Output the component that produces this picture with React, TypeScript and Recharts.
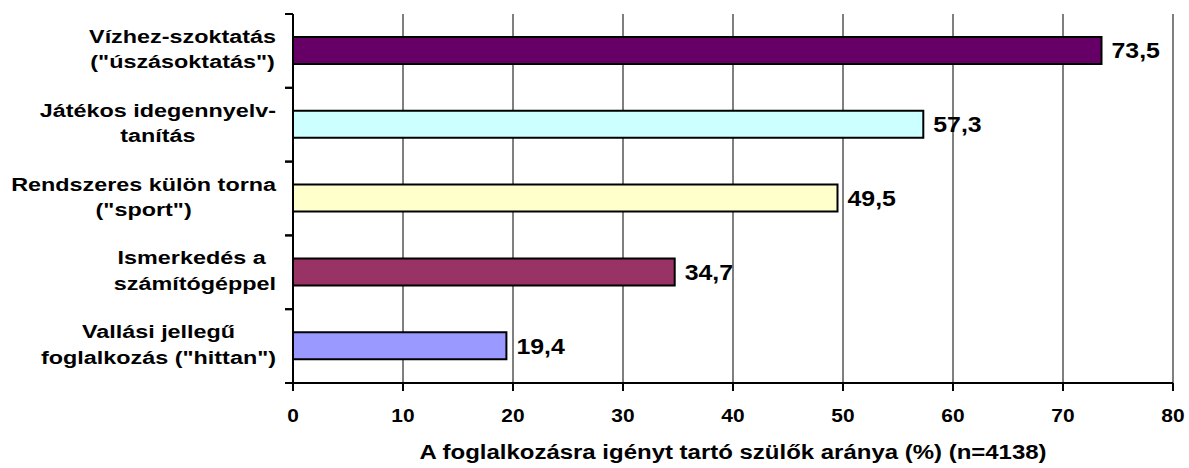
import React from 'react';
import { BarChart, Bar, XAxis, YAxis, CartesianGrid, Cell, LabelList } from 'recharts';

const categories = [
  'Vízhez-szoktatás\n("úszásoktatás")',
  'Játékos idegennyelv-\ntanítás',
  'Rendszeres külön torna\n("sport")',
  'Ismerkedés a \nszámítógéppel',
  'Vallási jellegű\nfoglalkozás ("hittan")',
];
const values = [73.5, 57.3, 49.5, 34.7, 19.4];
const colors = ['#660066', '#CCFFFF', '#FFFFCC', '#993366', '#9999FF'];
const xTicks = [0, 10, 20, 30, 40, 50, 60, 70, 80];
const xTitle = 'A foglalkozásra igényt tartó szülők aránya (%) (n=4138)';

const data = categories.map((name, i) => ({ name, value: values[i] }));

const W = 1189;
const H = 468;
const MARGIN = { top: 14, right: 16, bottom: 0, left: 0 };
const Y_AXIS_W = 293;
const X_AXIS_H = 85;
const FONT = "'Liberation Sans', Arial, Helvetica, sans-serif";
const BAND = (H - MARGIN.top - X_AXIS_H) / categories.length;

let ctx: CanvasRenderingContext2D | null = null;
function measure(text: string, size: number): number {
  if (!ctx) {
    const c = document.createElement('canvas');
    ctx = c.getContext('2d');
  }
  if (!ctx) return text.length * size * 0.6;
  ctx.font = `bold ${size}px ${FONT}`;
  return ctx.measureText(text).width;
}

const YTick = (props: any) => {
  const { y, payload } = props;
  const axisX = MARGIN.left + Y_AXIS_W;
  const lines = String(payload.value).split('\n');
  const size = 18.7;
  const sx = 1.25;
  const maxW = Math.max(...lines.map((l) => measure(l, size))) * sx;
  const right = axisX - 17;
  const cx = right - maxW / 2;
  const lineH = 25.5;
  const firstBase = y - 8 - ((lines.length - 2) * lineH) / 2;
  return (
    <g>
      <line x1={axisX - 8} x2={axisX} y1={y - BAND / 2} y2={y - BAND / 2} stroke="#000" strokeWidth={2} />
      <line x1={axisX - 8} x2={axisX} y1={y + BAND / 2} y2={y + BAND / 2} stroke="#000" strokeWidth={2} />
      {lines.map((l, i) => (
        <text
          key={i}
          transform={`translate(${cx},${firstBase + i * lineH}) scale(${sx},1)`}
          textAnchor="middle"
          fontFamily={FONT}
          fontWeight="bold"
          fontSize={size}
          fill="#000"
          style={{ whiteSpace: 'pre' }}
        >
          {l}
        </text>
      ))}
    </g>
  );
};

const XTick = (props: any) => {
  const { x, payload } = props;
  const axisY = H - X_AXIS_H;
  return (
    <text
      transform={`translate(${x},${axisY + 39}) scale(1.1,1)`}
      textAnchor="middle"
      fontFamily={FONT}
      fontWeight="bold"
      fontSize={19}
      fill="#000"
    >
      {payload.value}
    </text>
  );
};

const XTitle = (props: any) => {
  const vb = props.viewBox || {};
  const cx = (vb.x ?? 0) + (vb.width ?? 0) / 2;
  const axisY = H - X_AXIS_H;
  return (
    <text
      transform={`translate(${cx},${axisY + 76}) scale(1.23,1)`}
      textAnchor="middle"
      fontFamily={FONT}
      fontWeight="bold"
      fontSize={19.5}
      fill="#000"
    >
      {xTitle}
    </text>
  );
};

const ValueLabel = (props: any) => {
  const { x, y, width, height, value } = props;
  const txt = Number(value).toFixed(1).replace('.', ',');
  return (
    <text
      transform={`translate(${x + width + 10},${y + height / 2 + 7.8}) scale(1.13,1)`}
      textAnchor="start"
      fontFamily={FONT}
      fontWeight="bold"
      fontSize={22}
      fill="#000"
    >
      {txt}
    </text>
  );
};

export default function App() {
  return (
    <div style={{ position: 'absolute', left: 0, top: 0, width: W, height: H, background: '#fff' }}>
      <BarChart width={W} height={H} data={data} layout="vertical" margin={MARGIN}>
        <CartesianGrid horizontal={false} vertical={true} stroke="#000" strokeWidth={1} />
        <XAxis
          type="number"
          domain={[0, 80]}
          ticks={xTicks}
          interval={0}
          height={X_AXIS_H}
          axisLine={{ stroke: '#000', strokeWidth: 2 }}
          tickLine={{ stroke: '#000', strokeWidth: 2 }}
          tickSize={8}
          tick={<XTick />}
          label={<XTitle />}
        />
        <XAxis
          xAxisId="top"
          orientation="top"
          type="number"
          domain={[0, 80]}
          height={0}
          tick={false}
          tickLine={false}
          axisLine={{ stroke: '#808080', strokeWidth: 2 }}
        />
        <YAxis
          type="category"
          dataKey="name"
          width={Y_AXIS_W}
          axisLine={{ stroke: '#000', strokeWidth: 2 }}
          tickLine={false}
          tick={<YTick />}
          interval={0}
        />
        <YAxis
          yAxisId="right"
          orientation="right"
          type="category"
          dataKey="name"
          width={0}
          tick={false}
          tickLine={false}
          axisLine={{ stroke: '#808080', strokeWidth: 2 }}
        />
        <Bar dataKey="value" barSize={27} stroke="#000" strokeWidth={2} isAnimationActive={false}>
          {data.map((d, i) => (
            <Cell key={d.name} fill={colors[i]} />
          ))}
          <LabelList dataKey="value" content={<ValueLabel />} />
        </Bar>
      </BarChart>
    </div>
  );
}
